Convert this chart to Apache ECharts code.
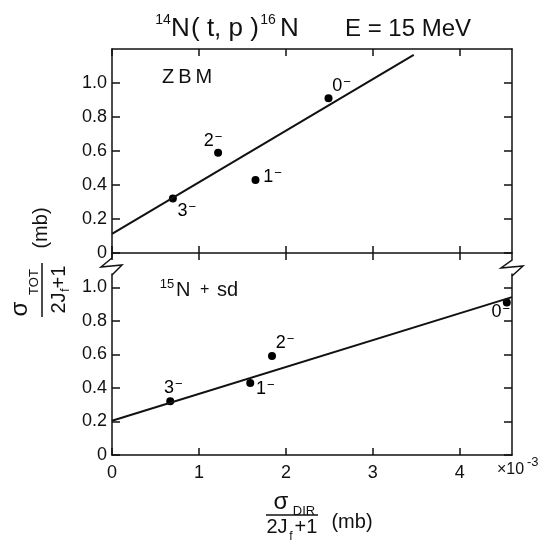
<!DOCTYPE html>
<html>
<head>
<meta charset="utf-8">
<script src="https://cdn.jsdelivr.net/npm/echarts@6/dist/echarts.min.js"></script>
<style>
    html, body { margin: 0; padding: 0; background: #fff; }
    #main { width: 547px; height: 550px; }
</style>
</head>
<body>
<div id="main"></div>
<script>
// data
var states = ['3⁻', '2⁻', '1⁻', '0⁻'];
var sigmaTot = [0.32, 0.59, 0.43, 0.91];          // shared y values
var sigmaDirZbm = [0.70, 1.22, 1.65, 2.49];       // ZBM panel x values
var sigmaDirSd = [0.67, 1.84, 1.59, 4.54];        // 15N + sd panel x values
var fitZbm = [[0, 0.112], [3.47, 1.165]];         // straight line, top panel
var fitSd = [[0, 0.204], [4.6, 0.942]];           // straight line, bottom panel
var xTicks = [0, 1, 2, 3, 4];
var yTicks = [0, 0.2, 0.4, 0.6, 0.8, 1.0];

// label offsets (style only)
var offTop = [[14, 12], [-5, -12], [17, -3], [13, -12]];
var offBot = [[3, -13], [13, -13], [15, 6], [-6, 10]];

var ink = '#111';
var font = 'Liberation Sans, Arial, sans-serif';

function xAx(grid, pos, inside, showLabel, showLine) {
    return {
        type: 'value', gridIndex: grid, position: pos, min: 0, max: 4.6,
        axisLine: { show: showLine, onZero: false, lineStyle: { color: ink, width: 1.5 } },
        axisTick: { show: true, inside: inside, length: 7, customValues: xTicks, lineStyle: { color: ink, width: 1.5 } },
        axisLabel: { show: showLabel, customValues: xTicks, fontSize: 18, color: ink, fontFamily: font, margin: 9 },
        splitLine: { show: false }
    };
}

function yAx(grid, pos, max, showLabel) {
    return {
        type: 'value', gridIndex: grid, position: pos, min: 0, max: max,
        axisLine: { show: true, onZero: false, lineStyle: { color: ink, width: 1.5 } },
        axisTick: { show: true, inside: true, length: 8, customValues: yTicks, lineStyle: { color: ink, width: 1.5 } },
        axisLabel: {
            show: showLabel, customValues: yTicks, fontSize: 18, color: ink, fontFamily: font, margin: 5,
            formatter: function (v) { return v === 0 ? '0' : v.toFixed(1); }
        },
        splitLine: { show: false }
    };
}

function points(xs, offs) {
    var out = [];
    for (var i = 0; i < xs.length; i++) {
        out.push({ value: [xs[i], sigmaTot[i]], label: { offset: offs[i] } });
    }
    return out;
}

function scatter(xi, yi, data) {
    return {
        type: 'scatter', xAxisIndex: xi, yAxisIndex: yi, data: data,
        symbolSize: 8, itemStyle: { color: '#000', opacity: 1 },
        label: {
            show: true, position: ['50%', '50%'], align: 'center', verticalAlign: 'middle',
            color: '#000', opacity: 1, textBorderWidth: 0,
            formatter: function (p) {
                var s = states[p.dataIndex];
                return '{n|' + s.replace('⁻', '') + '}{m|\u2212}';
            },
            rich: {
                n: { fontSize: 18, lineHeight: 20, fontFamily: font, color: '#000' },
                m: { fontSize: 13, lineHeight: 13, verticalAlign: 'top', fontFamily: font, color: '#000', padding: [0, 0, 0, 1] }
            }
        },
        silent: true
    };
}

function fit(xi, yi, data) {
    return {
        type: 'line', xAxisIndex: xi, yAxisIndex: yi, data: data,
        symbol: 'none', lineStyle: { color: ink, width: 2 }, silent: true
    };
}

function txt(x, y, s, size, align) {
    return {
        type: 'text', x: x, y: y,
        style: { text: s, fontSize: size, fontFamily: font, fill: ink, align: align || 'center', verticalAlign: 'middle' }
    };
}

var brkStyle = { stroke: ink, lineWidth: 1.5, fill: null };

var myChart = echarts.init(document.getElementById('main'));
var option = {
    backgroundColor: '#fff',
    animation: false,
    grid: [
        { left: 112, top: 49, width: 400, height: 204 },
        { left: 112, top: 274, width: 400, height: 181 }
    ],
    xAxis: [
        xAx(0, 'bottom', true, false, true),
        xAx(0, 'bottom', false, false, false),
        xAx(0, 'top', true, false, true),
        xAx(1, 'bottom', true, true, true)
    ],
    yAxis: [
        yAx(0, 'left', 1.2, true),
        yAx(0, 'right', 1.2, false),
        yAx(1, 'left', 1.08, true),
        yAx(1, 'right', 1.08, false)
    ],
    series: [
        fit(0, 0, fitZbm),
        scatter(0, 0, points(sigmaDirZbm, offTop)),
        fit(3, 2, fitSd),
        scatter(3, 2, points(sigmaDirSd, offBot))
    ],
    graphic: [
        // title
        txt(163, 20, '14', 14),
        txt(171, 29, 'N', 26, 'left'),
        txt(191, 29, '( t, p )', 26, 'left'),
        txt(268, 20, '16', 14),
        txt(280, 29, 'N', 26, 'left'),
        txt(345, 29, 'E = 15 MeV', 24, 'left'),
        // panel labels
        txt(162, 77, 'Z\u2009B\u2009M', 20, 'left'),
        txt(167, 284, '15', 13),
        txt(176, 290, 'N', 20, 'left'),
        txt(200, 290, '+', 16, 'left'),
        txt(217, 290, 'sd', 20, 'left'),
        // x10^-3
        txt(497, 470, '×10', 16, 'left'),
        txt(527, 462, '-3', 13, 'left'),
        // axis breaks
        { type: 'polyline', shape: { points: [[112, 253], [112, 258], [101, 267], [122, 265], [112, 275]] }, style: brkStyle },
        { type: 'polyline', shape: { points: [[512, 253], [512, 260], [501, 268], [523, 266], [512, 276]] }, style: brkStyle },
        // x axis title
        txt(281, 502, 'σ', 24),
        txt(304, 511, 'DIR', 13),
        { type: 'line', shape: { x1: 266, y1: 515, x2: 318, y2: 515 }, style: { stroke: ink, lineWidth: 1.5 } },
        txt(277, 527, '2J', 20),
        txt(291, 537, 'f', 12),
        txt(306, 527, '+1', 20),
        txt(352, 522, '(mb)', 20),
        // y axis title
        {
            type: 'group', x: 42, y: 290, rotation: Math.PI / 2,
            children: [
                txt(-19, -22, 'σ', 24),
                txt(8, -8, 'TOT', 13),
                { type: 'line', shape: { x1: -27, y1: 0, x2: 27, y2: 0 }, style: { stroke: ink, lineWidth: 1.5 } },
                txt(-13, 17, '2J', 20),
                txt(0, 24, 'f', 12),
                txt(13, 17, '+1', 20),
                txt(62, -1, '(mb)', 20)
            ]
        }
    ]
};
myChart.setOption(option);
</script>
</body>
</html>
